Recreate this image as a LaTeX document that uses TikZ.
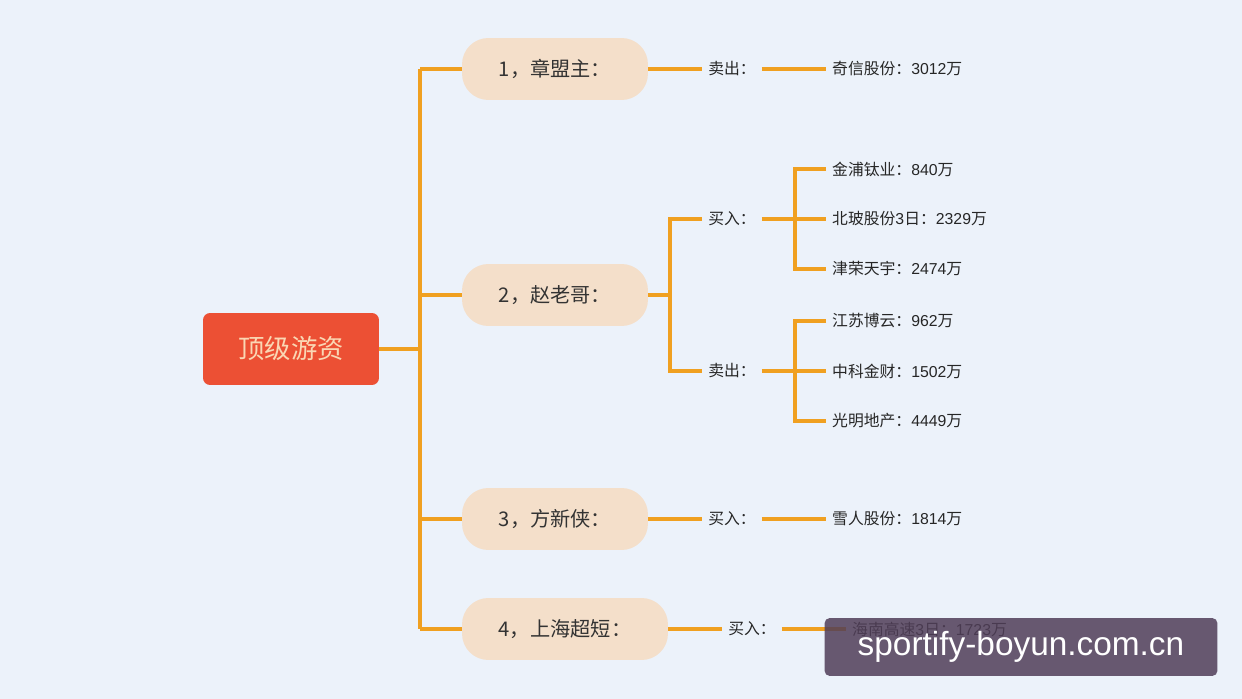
\documentclass[tikz,border=0pt]{standalone}
\usepackage{fontspec}
\setmainfont{Noto Sans CJK SC}
\newfontfamily\latinf{Liberation Sans}
\begin{document}
\begin{tikzpicture}[x=0.02cm,y=-0.02cm,
  pill/.style={fill=orange!30!brown!25!white, rounded corners=15pt, minimum width=3.72cm, minimum height=1.24cm, font=\fontsize{11.5}{12}\selectfont, text=black!80},
  lab/.style={font=\fontsize{9}{10}\selectfont, text=black!85},
  leaf/.style={lab, anchor=west}]
\definecolor{oc}{HTML}{F0A020}
\tikzset{ln/.style={draw=oc, line width=1.8pt}}
\fill[fill={rgb,255:red,236;green,242;blue,250}] (0,0) rectangle (1242,699);
\useasboundingbox (0,0) rectangle (1242,699);
\node[fill={rgb,255:red,236;green,80;blue,52}, rounded corners=4pt, minimum width=3.52cm, minimum height=1.44cm, text={rgb,255:red,250;green,215;blue,180}, font=\fontsize{15}{16}\selectfont] (root) at (291,349) {顶级游资};
\coordinate (t0) at (420,349);
\coordinate (tt) at (420,69);
\coordinate (tb) at (420,629);
\node[pill] (n1) at (555,69) {1，章盟主：};
\node[pill] (n2) at (555,295) {2，赵老哥：};
\node[pill] (n3) at (555,519) {3，方新侠：};
\node[pill, minimum width=4.12cm] (n4) at (565,629) {4，上海超短：};
\draw[ln] (root.east) -- (t0);
\draw[ln] (tt) -- (tb);
\draw[ln] (tt) -- (n1.west);
\draw[ln] (420,295) -- (n2.west);
\draw[ln] (420,519) -- (n3.west);
\draw[ln] (tb) -- (n4.west);
% node 1
\node[lab] (s1) at (732,69) {卖出：};
\node[leaf] (l1) at (826,69) {奇信股份：{\latinf 3012}万};
\draw[ln] (n1.east) -- (s1.west);
\draw[ln] (s1.east) -- (l1.west);
% node 2
\node[lab] (b2) at (732,219) {买入：};
\node[lab] (s2) at (732,371) {卖出：};
\coordinate (v2) at (670,295);
\draw[ln] (n2.east) -- (v2);
\draw[ln] (b2.west) -| (v2) |- (s2.west);
\node[leaf] (a1) at (826,169) {金浦钛业：{\latinf 840}万};
\node[leaf] (a2) at (826,219) {北玻股份{\latinf 3}日：{\latinf 2329}万};
\node[leaf] (a3) at (826,269) {津荣天宇：{\latinf 2474}万};
\node[leaf] (c1) at (826,321) {江苏博云：{\latinf 962}万};
\node[leaf] (c2) at (826,371) {中科金财：{\latinf 1502}万};
\node[leaf] (c3) at (826,421) {光明地产：{\latinf 4449}万};
\coordinate (va) at (795,219);
\coordinate (vc) at (795,371);
\draw[ln] (b2.east) -- (a2.west);
\draw[ln] (a1.west) -| (va) |- (a3.west);
\draw[ln] (s2.east) -- (c2.west);
\draw[ln] (c1.west) -| (vc) |- (c3.west);
% node 3
\node[lab] (b3) at (732,519) {买入：};
\node[leaf] (l3) at (826,519) {雪人股份：{\latinf 1814}万};
\draw[ln] (n3.east) -- (b3.west);
\draw[ln] (b3.east) -- (l3.west);
% node 4
\node[lab] (b4) at (752,629) {买入：};
\node[leaf] (l4) at (846,629) {海南高速{\latinf 3}日：{\latinf 1723}万};
\draw[ln] (n4.east) -- (b4.west);
\draw[ln] (b4.east) -- (l4.west);
% watermark
\node[fill={rgb,255:red,80;green,62;blue,88}, fill opacity=0.85, text opacity=1, rounded corners=3pt, minimum width=7.86cm, minimum height=1.16cm, text=white, font=\latinf\fontsize{19}{20}\selectfont] (wm) at (1021,647) {sportify-boyun.com.cn};
\end{tikzpicture}
\end{document}
